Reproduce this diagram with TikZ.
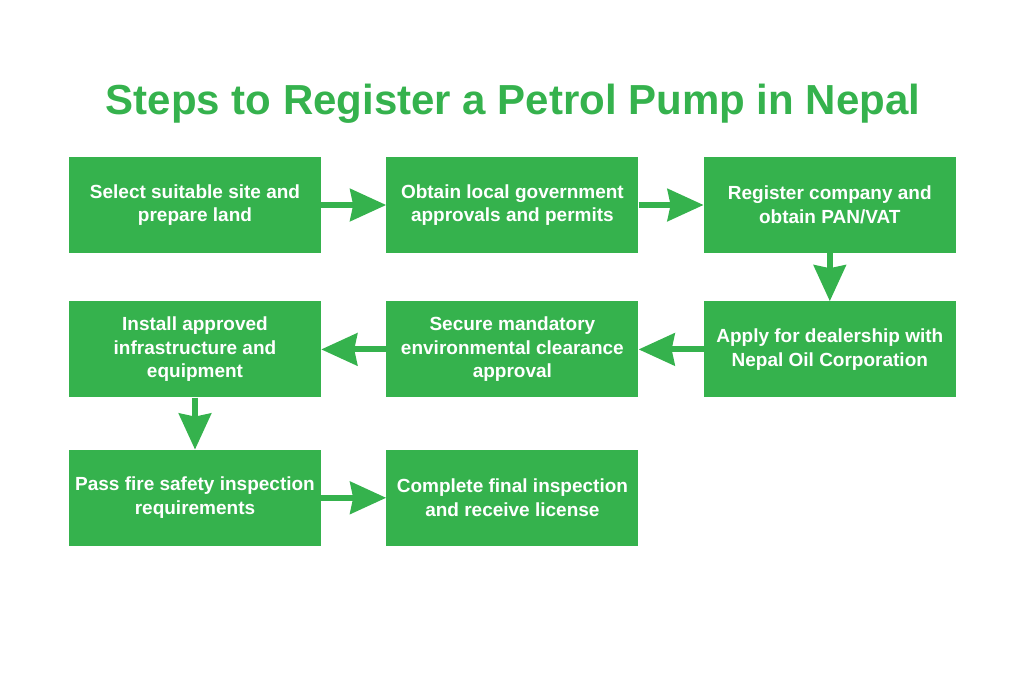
\documentclass[tikz,border=0pt]{standalone}
\usepackage{fontspec}
\setmainfont{Liberation Sans}
\usetikzlibrary{positioning,arrows.meta}
\definecolor{pgreen}{RGB}{53,178,77}

\begin{document}
\begin{tikzpicture}
  [box/.style={rectangle, fill=pgreen, text=white, inner sep=0pt,
    minimum width=252pt, minimum height=96pt, align=center,
    font=\bfseries\fontsize{19}{23.5}\selectfont},
  link/.style={pgreen, line width=6pt, -{Stealth[length=36pt,width=32pt,inset=3pt]}},
  node distance=65pt]
  \useasboundingbox (0,0) rectangle (1024pt,-683pt);
  \node[text=pgreen, font=\bfseries\fontsize{42}{48}\selectfont] (title) at (513pt,-104pt)
    {Steps to Register a Petrol Pump in Nepal};
  % first row
  \node[box] (site) at (195pt,-205pt) {Select suitable site and\\prepare land};
  \node[box, right=of site] (approvals) {Obtain local government\\approvals and permits};
  \node[box, right=of approvals] (company) {Register company and\\obtain PAN/VAT};
  % second row
  \node[box, below=48pt of company] (dealer) {Apply for dealership with\\Nepal Oil Corporation};
  \node[box, left=of dealer] (clearance) {Secure mandatory\\environmental clearance\\approval};
  \node[box, left=of clearance] (install) {Install approved\\infrastructure and\\equipment};
  % third row
  \node[box, below=52pt of install] (fire) {Pass fire safety inspection\\requirements};
  \node[box, right=of fire] (license) {Complete final inspection\\and receive license};
  \draw[link] (site) -- (approvals);
  \draw[link] (approvals) -- (company);
  \draw[link] (company) -- (dealer);
  \draw[link] (dealer) -- (clearance);
  \draw[link] (clearance) -- (install);
  \draw[link] (install) -- (fire);
  \draw[link] (fire) -- (license);
\end{tikzpicture}
\end{document}
